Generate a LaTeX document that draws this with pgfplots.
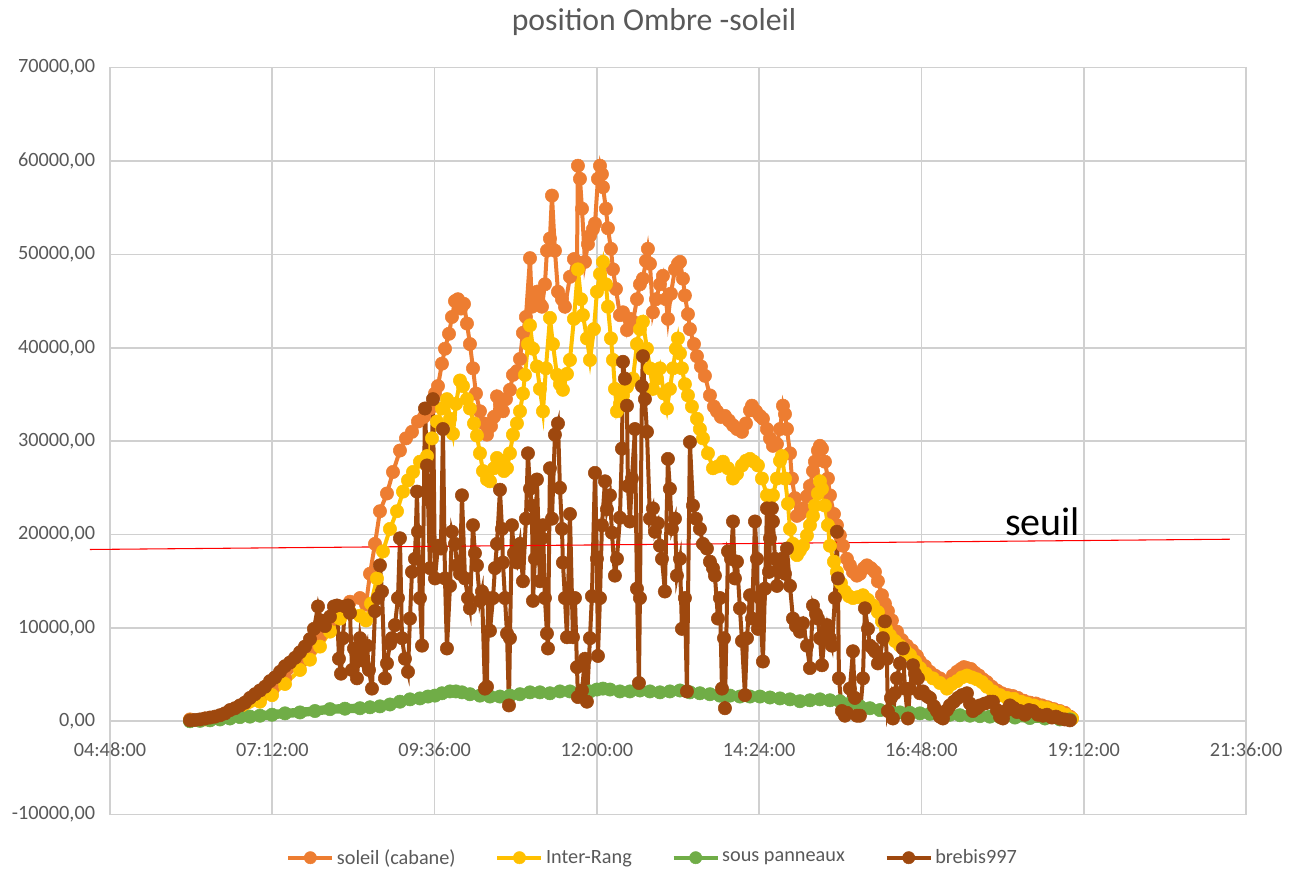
\documentclass[border=0pt]{standalone}
\usepackage{pgfplots}
\pgfplotsset{compat=1.18}
\usepackage{pgfplotstable}
\usepackage{fontspec}
\setmainfont{Carlito}
\definecolor{cSol}{HTML}{ED7D31}
\definecolor{cInt}{HTML}{FFC000}
\definecolor{cPan}{HTML}{70AD47}
\definecolor{cBre}{HTML}{9E480E}
\definecolor{gridc}{HTML}{D0D0D0}
\definecolor{txt}{HTML}{595959}

\pgfplotstableread{
h v
5.983 200
6.205 300
6.427 500
6.722 1200
7.018 2500
7.196 3300
7.388 4600
7.610 6300
7.757 7600
7.905 9100
8.053 10800
8.201 12300
8.349 12800
8.497 13200
8.586 12500
8.645 15800
8.719 19000
8.792 22500
8.896 24400
8.985 26700
9.088 29000
9.177 30300
9.266 31000
9.354 32100
9.443 32600
9.532 33500
9.606 35100
9.650 35900
9.709 38300
9.754 39900
9.813 41500
9.857 43300
9.902 45000
9.946 45200
9.990 44200
10.035 44700
10.079 42600
10.123 40400
10.168 37800
10.212 35100
10.271 33200
10.330 31900
10.375 30700
10.434 31600
10.478 32600
10.523 34800
10.567 34000
10.611 33200
10.656 34500
10.715 35500
10.759 37100
10.818 37500
10.863 38800
10.907 41600
10.951 43300
11.011 49600
11.040 44400
11.084 45200
11.114 46000
11.158 44700
11.188 44400
11.232 46800
11.262 50400
11.306 51700
11.336 56300
11.380 50400
11.425 46000
11.484 45200
11.528 44400
11.602 47600
11.661 49500
11.706 49200
11.720 59500
11.750 58100
11.780 54900
11.824 49200
11.868 51100
11.898 52000
11.942 52700
11.972 53300
12.016 58100
12.046 59500
12.075 58600
12.090 57200
12.134 54900
12.164 52800
12.208 50600
12.238 48400
12.282 46300
12.341 43500
12.386 43800
12.445 41900
12.489 43100
12.534 42800
12.593 45200
12.637 46800
12.681 47400
12.726 49300
12.755 50600
12.785 49000
12.829 43800
12.874 45200
12.933 46800
12.977 47700
13.021 45200
13.051 43100
13.095 45800
13.155 48400
13.199 49000
13.229 49200
13.273 47400
13.302 45600
13.347 43600
13.376 42000
13.436 40400
13.480 39100
13.539 38000
13.598 37000
13.672 34900
13.731 33700
13.776 33200
13.835 32600
13.894 32700
13.953 32200
14.013 31700
14.072 31300
14.146 31000
14.205 31900
14.264 33300
14.294 33800
14.353 33200
14.412 32700
14.456 32400
14.515 31300
14.560 30300
14.604 29500
14.663 29700
14.708 31300
14.752 33800
14.782 32900
14.811 31300
14.856 28700
14.885 26000
14.929 23900
14.959 22000
15.003 22200
15.048 22800
15.107 24100
15.151 25200
15.196 26800
15.225 27800
15.269 29000
15.299 29500
15.329 29200
15.373 27800
15.417 26000
15.447 24200
15.506 22200
15.550 21000
15.594 19900
15.639 18800
15.698 17400
15.742 16700
15.787 16000
15.846 15600
15.890 15800
15.949 16400
15.994 16700
16.053 16400
16.112 16000
16.156 15000
16.216 13500
16.260 12600
16.304 11800
16.363 10800
16.438 9600
16.511 8700
16.585 8100
16.659 7600
16.733 7000
16.778 6400
16.852 5900
16.925 5300
16.999 4900
17.073 4600
17.132 4200
17.177 3900
17.221 4300
17.265 4900
17.325 5300
17.384 5600
17.428 5800
17.473 5700
17.532 5600
17.591 5200
17.650 4900
17.709 4500
17.768 4200
17.842 3700
17.916 3300
17.990 3000
18.079 2800
18.153 2700
18.227 2500
18.316 2200
18.404 2000
18.493 1900
18.582 1700
18.670 1500
18.759 1300
18.848 1100
18.922 900
18.996 500
19.025 300
}\soleil

\pgfplotstableread{
h v
5.983 100
6.205 200
6.427 400
6.722 1000
7.018 2100
7.196 2800
7.388 4000
7.610 5500
7.757 6600
7.905 8000
8.053 9600
8.201 11000
8.349 11700
8.497 11300
8.586 10800
8.660 12600
8.748 15300
8.837 18200
8.940 20600
9.044 22500
9.133 24600
9.207 25800
9.281 26700
9.384 27800
9.488 28400
9.562 30300
9.636 32100
9.709 33500
9.783 34500
9.828 32400
9.872 30800
9.916 34000
9.976 36500
10.020 35900
10.079 34500
10.123 33500
10.183 31900
10.227 30600
10.271 28700
10.316 26800
10.375 25900
10.419 25700
10.478 27100
10.523 28200
10.582 27900
10.626 26800
10.671 27100
10.715 28700
10.759 30700
10.818 31900
10.863 33200
10.907 35100
10.937 37100
10.981 40400
11.011 42400
11.055 39900
11.114 38000
11.158 35600
11.203 33200
11.247 37800
11.306 43200
11.350 40400
11.410 37100
11.454 36100
11.498 35500
11.558 37200
11.602 38700
11.661 43100
11.720 48400
11.765 45200
11.794 43500
11.853 41000
11.898 38700
11.957 42000
12.001 46000
12.046 47900
12.090 49200
12.134 46800
12.164 44400
12.208 41000
12.238 38700
12.268 35600
12.297 33200
12.341 34000
12.386 34900
12.445 35800
12.489 36400
12.534 36700
12.593 40400
12.637 42000
12.681 42800
12.741 39900
12.785 37800
12.829 35600
12.889 36700
12.933 37800
12.992 35100
13.036 33500
13.080 35600
13.125 37800
13.169 39900
13.199 41000
13.229 39400
13.258 37800
13.302 36100
13.347 34900
13.406 33700
13.480 32400
13.524 31300
13.569 30300
13.643 28700
13.717 27100
13.791 27300
13.865 27800
13.939 27100
14.013 26000
14.072 26500
14.146 27400
14.205 27900
14.264 28100
14.324 27800
14.382 27400
14.441 26000
14.515 24200
14.560 23900
14.604 24200
14.663 26000
14.708 27900
14.737 28400
14.782 26000
14.826 23300
14.856 20600
14.900 19000
14.959 17800
15.003 18300
15.048 18800
15.107 19900
15.151 21000
15.196 22000
15.225 23100
15.269 24400
15.299 25700
15.329 24900
15.373 23100
15.417 21000
15.447 18800
15.506 17100
15.550 16000
15.609 14800
15.668 13900
15.728 13400
15.787 13200
15.861 13300
15.935 13500
16.009 13000
16.083 12400
16.156 11700
16.216 10700
16.275 9900
16.334 9200
16.408 8600
16.482 8100
16.556 7600
16.630 7100
16.704 6400
16.778 5700
16.866 5100
16.970 4600
17.073 4100
17.177 3500
17.251 4000
17.325 4300
17.399 4700
17.473 4900
17.546 4700
17.620 4500
17.694 4200
17.768 3700
17.857 3200
17.961 2800
18.064 2500
18.168 2400
18.271 2100
18.360 1900
18.463 1700
18.567 1500
18.656 1400
18.744 1200
18.848 1000
18.937 700
19.025 300
}\interrang

\pgfplotstableread{
h v
5.983 0
6.131 50
6.279 100
6.427 200
6.574 300
6.722 450
6.870 500
7.018 600
7.196 700
7.388 850
7.610 950
7.831 1100
8.053 1300
8.275 1350
8.497 1400
8.645 1500
8.792 1600
8.940 1800
9.088 2100
9.236 2350
9.384 2450
9.502 2650
9.606 2750
9.709 3000
9.828 3200
9.916 3200
10.005 3100
10.123 2900
10.271 2750
10.419 2650
10.567 2650
10.715 2750
10.863 2900
11.011 3100
11.158 3100
11.306 3000
11.454 3200
11.602 3200
11.750 3100
11.898 3200
12.001 3400
12.090 3500
12.194 3400
12.341 3200
12.489 3200
12.637 3300
12.785 3200
12.933 3100
13.080 3200
13.229 3300
13.376 3100
13.524 3000
13.672 2900
13.820 2750
13.968 2750
14.116 2650
14.264 2650
14.412 2650
14.560 2550
14.708 2450
14.856 2350
15.003 2150
15.151 2250
15.299 2350
15.447 2250
15.594 2150
15.742 1900
15.890 1600
16.038 1400
16.186 1200
16.334 1050
16.482 950
16.630 900
16.778 850
16.925 800
17.073 750
17.221 700
17.369 650
17.517 600
17.665 550
17.813 500
17.961 450
18.183 400
18.404 350
18.626 300
18.848 200
18.996 200
}\panneaux

\pgfplotstableread{
h v
5.983 100
6.057 150
6.131 200
6.205 300
6.279 400
6.353 500
6.427 650
6.500 850
6.574 1200
6.648 1400
6.722 1700
6.796 2000
6.870 2500
6.944 2900
7.018 3300
7.092 3700
7.166 4300
7.240 4700
7.314 5300
7.388 5900
7.462 6300
7.536 6800
7.610 7400
7.683 8000
7.757 8800
7.816 9900
7.876 12300
7.920 10800
7.979 10200
8.053 11200
8.112 12300
8.157 12400
8.186 6700
8.216 5100
8.245 8900
8.275 12300
8.320 12400
8.349 11600
8.379 5500
8.408 7800
8.452 4600
8.497 8900
8.541 6500
8.600 8100
8.630 5500
8.674 3500
8.719 11800
8.763 13200
8.792 16700
8.822 13900
8.866 4600
8.896 6200
8.940 8300
8.970 8900
9.014 10300
9.059 13200
9.088 19600
9.118 8900
9.162 6700
9.207 5300
9.236 11000
9.266 16000
9.310 17400
9.340 24600
9.354 20300
9.384 13200
9.414 8100
9.458 33500
9.488 27400
9.532 16400
9.576 34500
9.606 15300
9.650 18800
9.694 18500
9.724 31300
9.754 15300
9.783 7800
9.828 14500
9.857 20300
9.902 19000
9.931 16700
9.976 15800
10.005 24200
10.050 15300
10.094 13200
10.123 12100
10.168 21000
10.197 18000
10.227 16700
10.271 12900
10.301 13900
10.345 3500
10.375 3700
10.390 13200
10.419 9700
10.464 13200
10.493 16400
10.523 19000
10.567 24800
10.597 20600
10.611 17000
10.641 13200
10.671 9400
10.700 1700
10.715 8900
10.745 21000
10.774 18000
10.818 17000
10.863 19000
10.907 15000
10.951 21700
10.981 28700
11.011 24900
11.040 23100
11.055 12900
11.084 17400
11.114 25900
11.158 15000
11.188 19600
11.203 21000
11.232 13200
11.262 9400
11.277 7800
11.306 27100
11.336 21700
11.380 30700
11.425 31900
11.454 25000
11.484 20600
11.498 17000
11.528 13200
11.558 9000
11.602 22200
11.646 9000
11.676 13200
11.706 5800
11.720 2600
11.780 3300
11.824 6700
11.853 2100
11.898 8900
11.927 13400
11.972 26600
12.001 17400
12.016 7000
12.046 13200
12.075 21000
12.120 25700
12.149 22700
12.194 24200
12.223 20200
12.267 15600
12.297 17400
12.341 21800
12.371 29200
12.386 38500
12.415 36700
12.445 33800
12.460 25200
12.489 21400
12.519 26000
12.563 31300
12.593 14200
12.622 4100
12.637 13200
12.667 35900
12.681 39100
12.711 34500
12.741 31000
12.785 21700
12.829 22800
12.859 20300
12.903 21200
12.933 18800
12.963 17400
13.006 13900
13.051 28100
13.080 24900
13.110 20600
13.155 21700
13.184 15600
13.229 17400
13.258 9900
13.302 13200
13.332 3200
13.376 29900
13.421 23100
13.465 21700
13.524 20600
13.569 19000
13.628 18500
13.672 17100
13.717 16400
13.746 15600
13.791 11000
13.820 13200
13.850 3500
13.880 8900
13.894 1400
13.939 18200
13.983 17400
14.013 21400
14.042 15300
14.072 17100
14.116 12100
14.146 8600
14.190 2800
14.220 8900
14.264 13500
14.294 11000
14.338 21400
14.367 17400
14.382 9900
14.412 13200
14.456 6400
14.486 14200
14.515 22800
14.545 16000
14.560 19600
14.589 22800
14.604 21400
14.634 17400
14.663 14500
14.693 16400
14.737 17400
14.782 15800
14.811 18500
14.856 14500
14.900 11000
14.944 10200
15.003 9600
15.048 10500
15.107 8100
15.151 5700
15.196 12400
15.240 11500
15.269 11000
15.299 8900
15.329 6000
15.373 9400
15.402 10300
15.447 8900
15.476 8100
15.521 13200
15.550 20300
15.565 15300
15.580 4600
15.624 1100
15.668 600
15.698 900
15.742 3500
15.787 7500
15.816 2500
15.846 600
15.890 600
15.935 4600
15.964 12100
16.009 9900
16.038 8100
16.083 7800
16.112 7500
16.156 6200
16.186 6700
16.230 8900
16.260 10700
16.289 6700
16.304 1100
16.349 2500
16.378 300
16.408 3000
16.438 4600
16.482 6200
16.526 7800
16.556 3500
16.600 300
16.630 3500
16.674 6000
16.704 5100
16.748 4600
16.778 3000
16.822 3200
16.881 2700
16.925 2500
16.985 1600
17.029 1100
17.073 500
17.118 300
17.177 1200
17.221 1700
17.280 2100
17.339 2500
17.399 2800
17.473 3000
17.517 1900
17.561 1100
17.620 1400
17.665 1700
17.739 1900
17.813 2100
17.857 2100
17.916 1200
17.961 500
18.005 300
18.064 1200
18.109 1700
18.168 1400
18.212 1000
18.256 1100
18.330 700
18.389 1200
18.449 1100
18.522 700
18.596 600
18.656 700
18.730 400
18.789 500
18.848 300
18.922 200
18.996 100
}\brebis

\begin{document}
\begin{tikzpicture}
\useasboundingbox (-82.5pt,-42.75pt) rectangle (889.5pt,611pt);
\begin{axis}[
  at={(0pt,0pt)}, anchor=south west,
  scale only axis, width=852pt, height=560.25pt,
  xmin=4.8, xmax=21.6, ymin=-10000, ymax=70000,
  scaled y ticks=false, scaled x ticks=false,
  xtick={4.8,7.2,9.6,12,14.4,16.8,19.2,21.6},
  xticklabels={04:48:00,07:12:00,09:36:00,12:00:00,14:24:00,16:48:00,19:12:00,21:36:00},
  ytick={-10000,0,10000,20000,30000,40000,50000,60000,70000},
  yticklabels={{-10000,00},{0,00},{10000,00},{20000,00},{30000,00},{40000,00},{50000,00},{60000,00},{70000,00}},
  grid=major,
  major grid style={draw=gridc, line width=1.2pt},
  axis line style={draw=gridc, line width=1.2pt},
  major tick length=0pt,
  tick style={draw=none},
  ticklabel style={font=\fontsize{15.2}{18}\selectfont, text=txt},
  xticklabel style={anchor=center, yshift=48.75pt},
  yticklabel style={anchor=east, inner sep=0pt, xshift=-11pt},
  clip=false,
  legend columns=4,
  legend style={at={(0.478,-0.0576)}, anchor=center, draw=none, fill=none,
    font=\fontsize{15.2}{18}\selectfont, text=txt,
    /tikz/every even column/.append style={column sep=28pt}},
  legend image code/.code={
    \draw[#1, line width=2.8pt] (0pt,0pt) -- (33pt,0pt);
    \draw[#1, mark size=4.6pt] plot coordinates {(16.5pt,0pt)};
  },
  every axis plot/.append style={mark=*, mark size=5pt},
]
\addplot[color=cSol, line width=3pt, mark options={fill=cSol, draw=cSol, line width=0.4pt}] table[x=h,y=v] {\soleil};
\addlegendentry{soleil (cabane)}
\addplot[color=cInt, line width=3pt, mark options={fill=cInt, draw=cInt, line width=0.4pt}] table[x=h,y=v] {\interrang};
\addlegendentry{Inter-Rang}
\addplot[color=cPan, line width=7pt, mark options={fill=cPan, draw=cPan, line width=0.4pt}] table[x=h,y=v] {\panneaux};
\addlegendentry{sous panneaux}
\addplot[color=cBre, line width=3pt, mark options={fill=cBre, draw=cBre, line width=0.4pt}] table[x=h,y=v] {\brebis};
\addlegendentry{brebis997}
\addplot[color=red, line width=0.8pt, no markers, forget plot] coordinates {(4.504,18400) (21.361,19500)};
\node[anchor=base west, inner sep=0pt, font=\fontsize{30}{34}\selectfont, text=black] at (axis cs:18.034,19900) {seuil};
\end{axis}
\node[anchor=base, inner sep=0pt, font=\fontsize{23.8}{28}\selectfont, text=txt] at (408pt,588pt) {position Ombre -soleil};
\end{tikzpicture}
\end{document}
